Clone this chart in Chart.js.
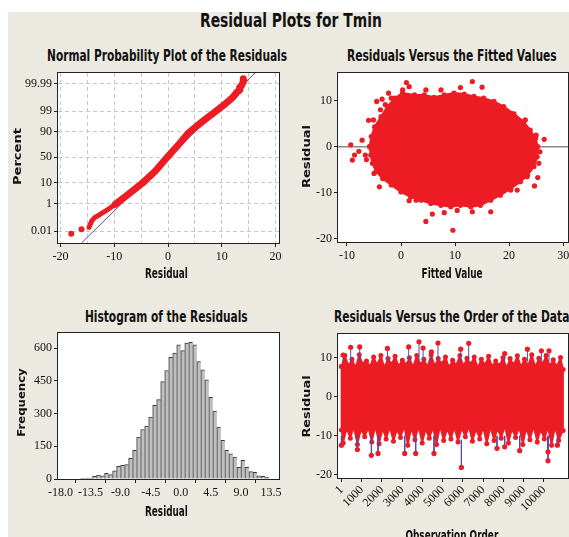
<!DOCTYPE html>
<html>
<head>
<meta charset="utf-8">
<title>Residual Plots for Tmin</title>
<script src="https://cdn.jsdelivr.net/npm/chart.js@4/dist/chart.umd.min.js"></script>
<style>
  html, body { margin: 0; padding: 0; width: 569px; height: 537px; overflow: hidden; background: #fff; }
  #bg { position: absolute; left: 8px; top: 12px; width: 561px; height: 525px; background: #ece9e0; }
  canvas { position: absolute; }
  .lbl { position: absolute; white-space: nowrap; line-height: 1; color: #111; }
  .ttl { font-family: 'Liberation Sans Narrow', 'DejaVu Sans Condensed', sans-serif; font-weight: bold; }
  .ax  { font-family: 'DejaVu Sans', Verdana, sans-serif; font-weight: bold; }
</style>
</head>
<body>
<div id="bg"></div>
<canvas id="c-prob" width="282" height="219" style="left:3px;top:69px"></canvas>
<canvas id="c-fit" width="284" height="218" style="left:288px;top:69px"></canvas>
<canvas id="c-hist" width="282" height="195" style="left:3px;top:329px"></canvas>
<canvas id="c-order" width="284" height="218" style="left:288px;top:330px"></canvas>
<script>
// ---- data: normal probability plot (residual, normal score) ----
const prob_tick_z = [-3.719, -2.326, -1.282, 0, 1.282, 2.326, 3.719];
const prob_tick_labels = ['0.01', '1', '10', '50', '90', '99', '99.99'];
const prob_tail_x = [-14.7, -14.2, -13.6, -12.8, -11.6, -9.8];
const prob_tail_z = [-3.52, -3.2, -3.02, -2.9, -2.7, -2.36];
const prob_main_x = [-9.8, -7.5, -4.8, -2.4, -0.15, 1.9, 3.87, 6.4, 8.84, 10.8, 12.0, 12.6, 12.9, 13.4, 13.3, 13.7, 14.1, 14.0];
const prob_main_z = [-2.36, -1.88, -1.31, -0.70, 0, 0.62, 1.24, 1.80, 2.30, 2.72, 3.0, 3.2, 3.3, 3.38, 3.5, 3.62, 3.85, 3.95];
const prob_lone_x = [-18.0, -16.1];
const prob_lone_z = [-3.84, -3.62];
const fit_line_x = [-16.1, 16.2];
const fit_line_z = [-4.31, 4.24];

// ---- data: residuals vs fitted values ----
const fitted_blob_x = [-5.8, -5.5, -4.9, -3.7, -2.5, -1.2, 0.3, 2.5, 4.3, 6.1, 8.0, 9.8, 11.7, 13.5, 15.3, 17.2, 19.0, 20.9, 22.7, 23.9, 24.9, 25.3, 25.2, 24.6, 23.4, 22.1, 20.3, 18.4, 16.6, 14.7, 12.9, 11.0, 9.2, 7.4, 5.5, 3.7, 1.8, 0.0, -1.8, -3.4, -4.6, -5.3, -5.6, -5.8];
const fitted_blob_y = [0, 2.2, 4.3, 6.5, 8.7, 10.5, 11.6, 11.2, 11.2, 10.7, 11.2, 11.6, 11.4, 10.9, 10.5, 9.8, 8.7, 7.1, 5.4, 3.6, 1.8, 0, -2.2, -4.3, -6.2, -7.6, -9.1, -10.5, -11.6, -12.7, -13.0, -12.7, -13.0, -12.7, -12.3, -11.6, -10.9, -9.8, -8.3, -6.9, -5.4, -3.6, -1.8, 0];
const fitted_out_x = [-9.3, -9.0, -8.6, -7.8, -7.2, -6.6, -6.4, -6.0, -5.1, -4.5, -4.0, -3.8, -3.5, -2.9, -2.3, -1.8, 0.3, 1.0, 1.5, 4.6, 7.4, 11.0, 13.2, 15.0, 1.5, 2.8, 4.6, 5.8, 8.0, 9.6, 10.4, 13.2, 16.6, 18.7, 20.3, 21.5, 23.3, 24.7, 25.3, 25.5, 25.7, 26.5, 25.0, 23.0, 20.6, -5.0];
const fitted_out_y = [0.4, -2.9, -1.8, -1.0, 1.4, -1.8, -2.8, 5.7, 5.8, 9.8, -8.7, 8.0, 10.3, 9.1, 11.6, 10.5, 12.3, 13.9, 13.0, 12.3, 12.3, 12.8, 14.1, 12.9, -11.7, -11.6, -16.2, -14.6, -14.3, -18.1, -13.8, -14.1, -14.1, -9.1, -9.4, -9.4, -6.5, -8.5, -6.7, -3.6, -1.1, 1.6, 2.5, 5.8, 7.1, -5.8];
const zero_line_x = [-12, 31];

// ---- data: histogram (bin centre, frequency) ----
const hist_centers = [-14.7, -14.1, -13.5, -12.9, -12.3, -11.7, -11.1, -10.5, -9.9, -9.3, -8.7, -8.1, -7.5, -6.9, -6.3, -5.7, -5.1, -4.5, -3.9, -3.3, -2.7, -2.1, -1.5, -0.9, -0.3, 0.3, 0.9, 1.5, 2.1, 2.7, 3.3, 3.9, 4.5, 5.1, 5.7, 6.3, 6.9, 7.5, 8.1, 8.7, 9.3, 9.9, 10.5, 11.1, 11.7, 12.3, 12.9];
const hist_counts = [3, 4, 4, 12, 18, 14, 26, 20, 38, 58, 63, 66, 95, 131, 192, 227, 243, 284, 338, 364, 446, 497, 558, 577, 615, 588, 623, 626, 615, 538, 500, 454, 374, 311, 238, 177, 131, 115, 100, 54, 85, 54, 34, 31, 15, 12, 8];
const hist_x_ticks = [-18, -13.5, -9, -4.5, 0, 4.5, 9, 13.5];
const hist_y_ticks = [0, 150, 300, 450, 600];

// ---- data: residuals vs observation order ----
const order_top_x = [1, 170, 350, 520, 700, 880, 1050, 1240, 1410, 1590, 1770, 1950, 2120, 2300, 2480, 2650, 2830, 3010, 3190, 3360, 3540, 3720, 3900, 4070, 4250, 4430, 4610, 4780, 4960, 5140, 5320, 5490, 5670, 5850, 6030, 6200, 6380, 6560, 6740, 6910, 7090, 7270, 7450, 7620, 7800, 7980, 8160, 8330, 8510, 8690, 8870, 9040, 9220, 9400, 9580, 9750, 9930, 10110, 10290, 10460, 10640, 10820, 10950];
const order_top_y = [7.8, 10.6, 8.0, 9.6, 7.6, 10.8, 8.4, 9.2, 7.8, 10.2, 8.2, 10.6, 7.6, 9.8, 8.4, 10.4, 7.9, 9.4, 8.2, 10.0, 7.7, 10.6, 8.3, 9.6, 7.8, 10.8, 8.0, 9.8, 8.5, 10.2, 7.6, 9.4, 8.1, 10.6, 7.9, 9.9, 8.4, 10.2, 7.6, 9.6, 8.2, 10.4, 7.8, 9.2, 8.0, 10.0, 7.5, 9.8, 8.3, 10.5, 7.8, 9.6, 8.1, 10.8, 7.7, 9.9, 8.4, 10.6, 8.0, 9.5, 7.8, 10.1, 7.0];
const order_bot_x = [1, 90, 260, 440, 610, 790, 970, 1150, 1330, 1500, 1680, 1860, 2040, 2210, 2390, 2570, 2740, 2920, 3100, 3280, 3450, 3630, 3810, 3990, 4160, 4340, 4520, 4700, 4870, 5050, 5230, 5410, 5580, 5760, 5940, 6120, 6290, 6470, 6650, 6830, 7000, 7180, 7360, 7540, 7710, 7890, 8070, 8250, 8420, 8600, 8780, 8960, 9130, 9310, 9490, 9670, 9840, 10020, 10200, 10380, 10550, 10730, 10950];
const order_bot_y = [-8.5, -11.8, -8.2, -10.6, -7.8, -12.2, -8.4, -10.2, -8.0, -11.6, -7.6, -12.0, -8.3, -10.8, -7.9, -11.4, -8.5, -10.4, -7.7, -12.4, -8.2, -11.0, -7.8, -11.8, -8.4, -10.6, -8.0, -12.2, -7.6, -11.2, -8.3, -10.8, -7.9, -11.6, -8.1, -10.2, -7.7, -11.4, -8.4, -10.8, -8.0, -12.0, -7.8, -11.2, -8.2, -10.6, -7.6, -11.8, -8.3, -10.4, -7.9, -12.2, -8.1, -11.0, -7.7, -11.6, -8.4, -10.8, -8.0, -12.4, -7.8, -11.2, -8.6];
const order_spike_x = [82, 459, 904, 2272, 3323, 3833, 4033, 4444, 4770, 5891, 6286, 8064, 9185, 9876, 10252, 1, 790, 1481, 1810, 3126, 3669, 4573, 5926, 7684, 8064, 8805, 10202, 10202, 10667];
const order_spike_y = [10.7, 12.7, 12.8, 12.4, 12.8, 14.1, 12.5, 11.5, 13.8, 12.2, 13.7, 11.1, 12.2, 11.8, 11.8, -12.4, -13.5, -15.0, -14.5, -14.5, -14.5, -14.5, -18.1, -13.2, -12.8, -13.8, -16.4, -14.1, -12.4];
const order_spike_base = [9, 9, 9, 9, 9, 9, 9, 9, 9, 9, 9, 9, 9, 9, 9, -10, -10, -10, -10, -10, -10, -10, -11, -10, -10, -10, -10, -10, -10];
const order_x_ticks = [1, 1000, 2000, 3000, 4000, 5000, 6000, 7000, 8000, 9000, 10000];
const resid_y_ticks = [-20, -10, 0, 10];

// ---- text labels: text, centre x, centre y, width, size, class, rotation ----
const text_labels = [
  ['Residual Plots for Tmin', 291, 19.5, 182, 20, 'ttl', 0],
  ['Normal Probability Plot of the Residuals', 166.7, 56, 240, 16, 'ttl', 0],
  ['Residuals Versus the Fitted Values', 451.7, 56, 210, 16, 'ttl', 0],
  ['Histogram of the Residuals', 166.7, 317, 163, 16, 'ttl', 0],
  ['Residuals Versus the Order of the Data', 451, 317, 235, 16, 'ttl', 0],
  ['Residual', 166.7, 273, 43, 14, 'ttl', 0],
  ['Fitted Value', 452, 273.3, 61, 14, 'ttl', 0],
  ['Residual', 166.7, 510.5, 43, 14, 'ttl', 0],
  ['Observation Order', 452, 535, 93, 14, 'ttl', 0],
  ['Percent', 17.3, 156.7, 57, 11, 'ax', -90],
  ['Residual', 306, 156.7, 63, 11, 'ax', -90],
  ['Frequency', 21.3, 402.5, 68, 11, 'ax', -90],
  ['Residual', 306, 406, 62, 11, 'ax', -90],
];

const RED = 'rgb(237,28,36)';
const BLUE = '#4b4bb4';
const tick_font = { family: "'Liberation Serif', 'Times New Roman', serif", size: 12 };

function pts(xs, ys) { return xs.map((x, i) => ({ x, y: ys[i] })); }

// white plot area + black frame
const frame_plugin = {
  id: 'frame',
  beforeDraw(chart) {
    const a = chart.chartArea, ctx = chart.ctx;
    ctx.save();
    ctx.fillStyle = '#fff';
    ctx.fillRect(a.left, a.top, a.right - a.left, a.bottom - a.top);
    ctx.restore();
  },
  afterDraw(chart) {
    const a = chart.chartArea, ctx = chart.ctx;
    ctx.save();
    ctx.strokeStyle = '#222';
    ctx.lineWidth = 1;
    ctx.strokeRect(a.left - 0.5, a.top - 0.5, a.right - a.left + 1, a.bottom - a.top + 1);
    ctx.restore();
  }
};

// axis with a fixed box size and given tick values
function axis(size, vals, min, max, more = {}) {
  return {
    type: 'linear', min, max,
    afterFit(s) {
      if (s.isHorizontal()) s.height = size; else s.width = size;
      s.paddingLeft = s.paddingRight = s.paddingTop = s.paddingBottom = 0;
    },
    afterBuildTicks(s) { s.ticks = vals.map(v => ({ value: v })); },
    border: Object.assign({ display: false }, more.border),
    grid: Object.assign({ drawOnChartArea: false, tickLength: 4, color: '#222', tickColor: '#222' }, more.grid),
    ticks: Object.assign({ autoSkip: false, maxRotation: 0, minRotation: 0, padding: 2, color: '#111', font: tick_font }, more.ticks),
  };
}

function base_opts(pad, scales) {
  return {
    responsive: false, animation: false, devicePixelRatio: 1, events: [],
    layout: { padding: { top: pad[0], right: pad[1], left: 0, bottom: 0 } },
    plugins: { legend: { display: false }, tooltip: { enabled: false } },
    scales,
  };
}

// 1) normal probability plot
new Chart(document.getElementById('c-prob'), {
  type: 'scatter',
  data: { datasets: [
    { type: 'line', data: pts(prob_main_x, prob_main_z), borderColor: RED, borderWidth: 7, pointRadius: 0, borderCapStyle: 'round', borderJoinStyle: 'round', order: 0 },
    { type: 'line', data: pts(prob_tail_x, prob_tail_z), borderColor: RED, borderWidth: 5, pointRadius: 0, borderCapStyle: 'round', borderJoinStyle: 'round', order: 0 },
    { data: pts(prob_lone_x, prob_lone_z), pointRadius: 3, backgroundColor: RED, borderWidth: 0, order: 0 },
    { type: 'line', data: pts(fit_line_x, fit_line_z), borderColor: BLUE, borderWidth: 1, pointRadius: 0, order: 2 },
  ]},
  options: base_opts([4, 6], {
    x: axis(45, [-20, -15, -10, -5, 0, 5, 10, 15, 20], -20.47, 20.65, {
      grid: { drawOnChartArea: true, color: '#c8c8c8', tickColor: c => (c.tick && c.tick.value % 10 === 0 ? '#222' : 'rgba(0,0,0,0)') },
      border: { dash: [4, 3] },
      ticks: { padding: 3, callback: v => (v % 10 === 0 ? String(v) : '') },
    }),
    y: axis(55, prob_tick_z, -4.31, 4.24, {
      grid: { drawOnChartArea: true, color: '#c8c8c8', tickColor: '#222' },
      border: { dash: [4, 3] },
      ticks: { callback: (v, i) => prob_tick_labels[i] },
    }),
  }),
  plugins: [frame_plugin],
});

// 2) residuals vs fitted values
new Chart(document.getElementById('c-fit'), {
  type: 'scatter',
  data: { datasets: [
    { data: pts(fitted_out_x, fitted_out_y), pointRadius: 2.6, backgroundColor: RED, borderWidth: 0, order: 0 },
    { type: 'line', data: pts(fitted_blob_x, fitted_blob_y), fill: 'shape', backgroundColor: RED, borderColor: RED, borderWidth: 2, pointRadius: 2.6, pointBackgroundColor: RED, pointBorderWidth: 0, order: 1 },
    { type: 'line', data: pts(zero_line_x, [0, 0]), borderColor: '#8a8a8a', borderWidth: 1.5, pointRadius: 0, order: 2 },
  ]},
  options: base_opts([4, 4], {
    x: axis(45, [-10, 0, 10, 20, 30], -11.66, 30.9, { ticks: { padding: 3, callback: v => String(v) } }),
    y: axis(50, resid_y_ticks, -20.65, 15.96, { ticks: { callback: v => String(v) } }),
  }),
  plugins: [frame_plugin],
});

// 3) histogram
new Chart(document.getElementById('c-hist'), {
  type: 'bar',
  data: { datasets: [{
    data: pts(hist_centers, hist_counts),
    backgroundColor: '#bfbfbf', borderColor: '#3a3a3a',
    borderWidth: { left: 1, top: 1, right: 0, bottom: 0 }, borderSkipped: false,
    barPercentage: 1, categoryPercentage: 1,
  }]},
  options: base_opts([4, 6], {
    x: Object.assign(axis(45, hist_x_ticks, -18.37, 14.7, { ticks: { padding: 3, callback: v => v.toFixed(1) } }), { offset: false }),
    y: axis(55, hist_y_ticks, 0, 669, { ticks: { callback: v => String(v) } }),
  }),
  plugins: [frame_plugin],
});

// 4) residuals vs order
const order_poly_x = order_top_x.concat(order_bot_x.slice().reverse(), [order_top_x[0]]);
const order_poly_y = order_top_y.concat(order_bot_y.slice().reverse(), [order_top_y[0]]);
const stem_pts = [];
order_spike_x.forEach((x, i) => {
  stem_pts.push({ x, y: order_spike_base[i] }, { x, y: order_spike_y[i] }, { x, y: null });
});

new Chart(document.getElementById('c-order'), {
  type: 'scatter',
  data: { datasets: [
    { data: pts(order_spike_x, order_spike_y), pointRadius: 2.6, backgroundColor: RED, borderWidth: 0, order: 0 },
    { type: 'line', data: stem_pts, borderColor: BLUE, borderWidth: 1, pointRadius: 0, spanGaps: false, order: 1 },
    { type: 'line', data: pts(order_poly_x, order_poly_y), fill: 'shape', backgroundColor: RED, borderColor: RED, borderWidth: 1.5, pointRadius: 2.5, pointBackgroundColor: RED, pointBorderWidth: 0, order: 2 },
  ]},
  options: base_opts([4, 4], {
    x: axis(70, order_x_ticks, -168, 11190, { ticks: { minRotation: 45, maxRotation: 45, padding: 1, callback: v => String(v) } }),
    y: axis(50, resid_y_ticks, -20.8, 16.1, { ticks: { callback: v => String(v) } }),
  }),
  plugins: [frame_plugin],
});

// titles as html text, squeezed to the measured widths
text_labels.forEach(([t, cx, cy, w, size, cls, rot]) => {
  const d = document.createElement('div');
  d.className = 'lbl ' + cls;
  d.textContent = t;
  d.style.fontSize = size + 'px';
  document.body.appendChild(d);
  const nat = d.offsetWidth;
  d.style.left = (cx - nat / 2) + 'px';
  d.style.top = (cy - d.offsetHeight / 2) + 'px';
  d.style.transform = `rotate(${rot}deg) scaleX(${w / nat})`;
});
</script>
</body>
</html>
